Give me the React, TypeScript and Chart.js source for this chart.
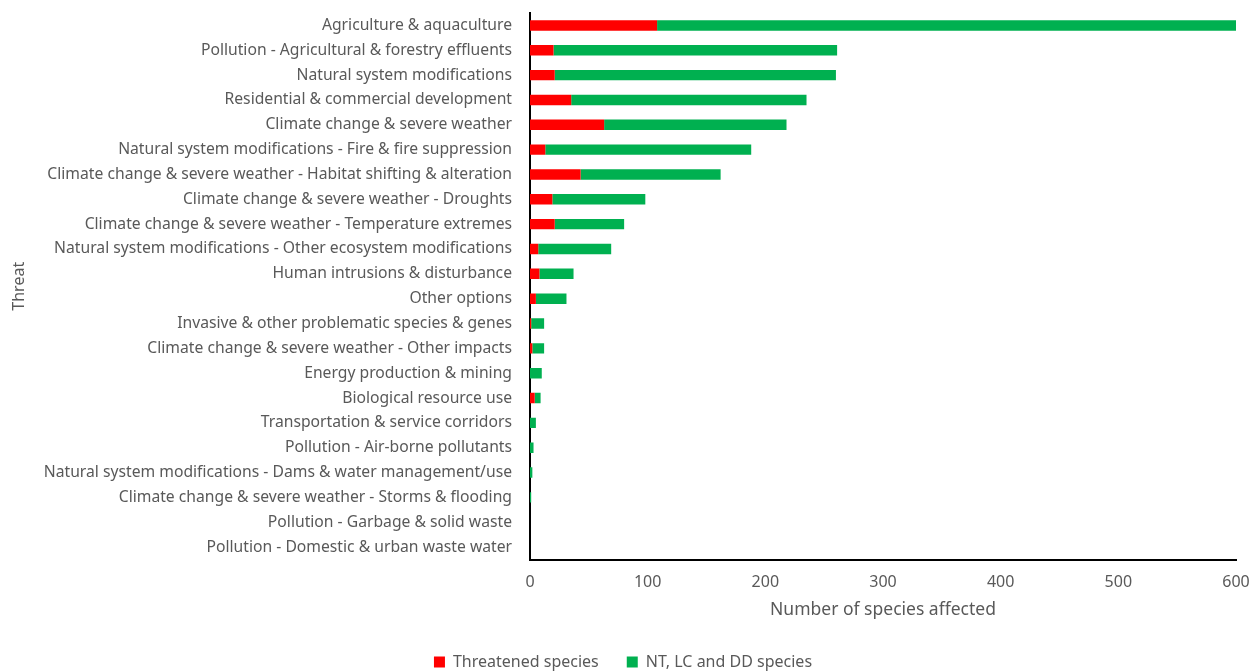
import React, { useEffect, useRef } from "react";
import { Chart, registerables } from "chart.js";

Chart.register(...registerables);

const categories = [
  "Agriculture & aquaculture",
  "Pollution - Agricultural & forestry effluents",
  "Natural system modifications",
  "Residential & commercial development",
  "Climate change & severe weather",
  "Natural system modifications - Fire & fire suppression",
  "Climate change & severe weather - Habitat shifting & alteration",
  "Climate change & severe weather - Droughts",
  "Climate change & severe weather - Temperature extremes",
  "Natural system modifications - Other ecosystem modifications",
  "Human intrusions & disturbance",
  "Other options",
  "Invasive & other problematic species & genes",
  "Climate change & severe weather - Other impacts",
  "Energy production & mining",
  "Biological resource use",
  "Transportation & service corridors",
  "Pollution - Air-borne pollutants",
  "Natural system modifications - Dams & water management/use",
  "Climate change & severe weather - Storms & flooding",
  "Pollution - Garbage & solid waste",
  "Pollution - Domestic & urban waste water",
];

const threatened = [108, 20, 21, 35, 63, 13, 43, 19, 21, 7, 8, 5, 1, 2, 0, 4, 0, 0, 0, 0, 0, 0];
const ntLcDd = [492, 241, 239, 200, 155, 175, 119, 79, 59, 62, 29, 26, 11, 10, 10, 5, 5, 3, 2, 1, 0, 0];

const xTicks = [0, 100, 200, 300, 400, 500, 600];

const TEXT = "#595959";
const FONT = "'Noto Sans', sans-serif";

export default function App() {
  const ref = useRef<HTMLCanvasElement | null>(null);

  useEffect(() => {
    if (!ref.current) return;
    const chart = new Chart(ref.current, {
      type: "bar",
      data: {
        labels: categories,
        datasets: [
          {
            label: "Threatened species",
            data: threatened,
            backgroundColor: "#FF0000",
            borderWidth: 0,
            barPercentage: 0.84,
            categoryPercentage: 0.5,
          },
          {
            label: "NT, LC and DD species",
            data: ntLcDd,
            backgroundColor: "#00B050",
            borderWidth: 0,
            barPercentage: 0.84,
            categoryPercentage: 0.5,
          },
        ],
      },
      options: {
        indexAxis: "y",
        responsive: false,
        animation: false,
        layout: { padding: { left: 10, top: 13, right: 14, bottom: -9 } },
        plugins: {
          tooltip: { enabled: false },
          legend: {
            position: "bottom",
            labels: {
              color: TEXT,
              font: { family: FONT, size: 16 },
              boxWidth: 11,
              boxHeight: 11,
              padding: 28,
            },
          },
        },
        scales: {
          x: {
            stacked: true,
            min: 0,
            max: 600,
            afterBuildTicks: (scale: any) => {
              scale.ticks = xTicks.map((v) => ({ value: v }));
            },
            afterFit: (scale: any) => {
              scale.height = 66.5;
              scale.paddingLeft = 0;
              scale.paddingRight = 0;
            },
            grid: { display: false, drawTicks: false },
            border: { display: true, color: "#000000", width: 2 },
            ticks: {
              color: TEXT,
              font: { family: FONT, size: 16 },
              padding: 13,
            },
            title: {
              display: true,
              text: "Number of species affected",
              color: TEXT,
              font: { family: FONT, size: 17.5 },
              padding: { top: 4, bottom: 5.5 },
            },
          },
          y: {
            stacked: true,
            afterFit: (scale: any) => {
              scale.width = 520;
              scale.paddingTop = 0;
              scale.paddingBottom = 0;
            },
            grid: { display: false, drawTicks: false },
            border: { display: true, color: "#000000", width: 2 },
            ticks: {
              color: TEXT,
              font: { family: FONT, size: 15.7 },
              padding: 18,
              autoSkip: false,
            },
            title: {
              display: true,
              text: "Threat",
              color: TEXT,
              font: { family: FONT, size: 16 },
              padding: 0,
            },
          },
        },
      },
    });
    return () => chart.destroy();
  }, []);

  return (
    <div style={{ position: "absolute", left: 0, top: 0, width: 1250, height: 671, background: "#fff" }}>
      <canvas ref={ref} width={1250} height={671} />
    </div>
  );
}
